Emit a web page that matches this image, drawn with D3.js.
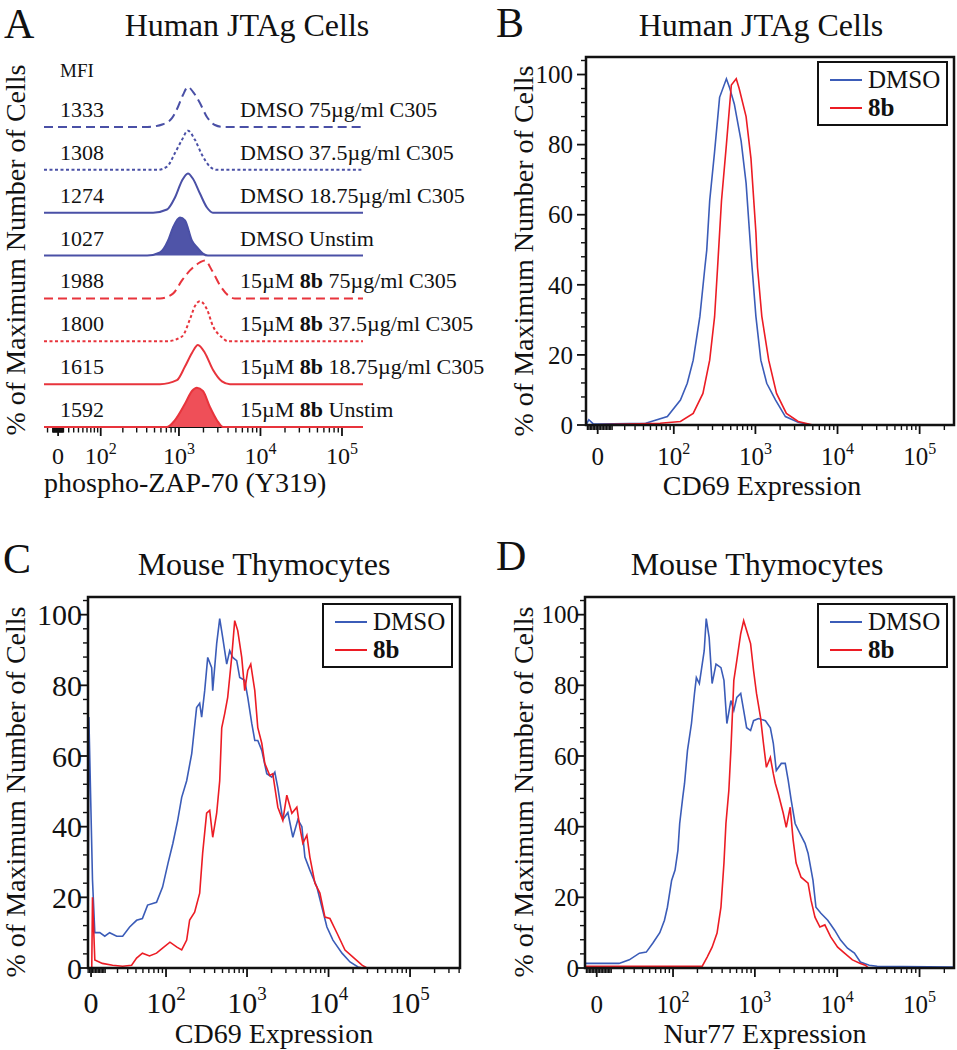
<!DOCTYPE html>
<html><head><meta charset="utf-8">
<script src="https://cdn.jsdelivr.net/npm/d3@7"></script>
<style>
body{margin:0;background:#fff}
svg{display:block}
text{font-family:"Liberation Serif","Times New Roman",serif;fill:#111;white-space:pre}
</style>
</head><body>
<svg id="c" width="957" height="1050"></svg>
<script>
// ---------------- DATA ----------------
// x tick labels (decades)
const xMajorValues = [0, 100, 1000, 10000, 100000];
const xTickBase = ["0", "10", "10", "10", "10"];
const xTickExp = ["", "2", "3", "4", "5"];
const yTickValues = [0, 20, 40, 60, 80, 100];

// Panel A: staggered histograms (x = fluorescence intensity, y = % of max)
const rowMFI = ["1333", "1308", "1274", "1027", "1988", "1800", "1615", "1592"];
const rowPrefix = ["DMSO", "DMSO", "DMSO", "DMSO", "15µM ", "15µM ", "15µM ", "15µM "];
const rowBold = ["", "", "", "", "8b", "8b", "8b", "8b"];
const rowSuffix = [" 75µg/ml C305", " 37.5µg/ml C305", " 18.75µg/ml C305", " Unstim",
                   " 75µg/ml C305", " 37.5µg/ml C305", " 18.75µg/ml C305", " Unstim"];
const rowStyle = ["dash", "dot", "solid", "fill", "dash", "dot", "solid", "fill"];
const rowGroup = ["DMSO", "DMSO", "DMSO", "DMSO", "8b", "8b", "8b", "8b"];

const rowDMSO75 = [[405,0],[637,7],[820,22],[972,50],[1120,80],[1289,100],[1486,88],[1810,60],[2206,25],[2766,5],[3467,0]];
const rowDMSO37 = [[537,0],[713,8],[893,42],[1089,75],[1289,98],[1572,75],[1915,38],[2401,8],[2926,0]];
const rowDMSO18 = [[480,0],[713,8],[893,38],[1089,80],[1289,98],[1486,85],[1810,48],[2206,13],[2613,0]];
const rowDMSOUn = [[405,0],[585,8],[733,37],[844,70],[1028,95],[1186,88],[1445,37],[1663,21],[1969,5],[2269,0]];
const row8b75 = [[585,0],[844,12],[1089,45],[1365,70],[1810,90],[2084,95],[2541,70],[3185,33],[3993,8],[4864,0]];
const row8b37 = [[713,0],[1089,12],[1365,55],[1572,88],[1810,100],[2206,80],[2613,38],[3371,10],[3993,0]];
const row8b18 = [[585,0],[945,10],[1186,44],[1445,78],[1710,98],[2084,78],[2613,36],[3371,7],[4226,0]];
const row8bUn = [[713,0],[893,17],[1186,58],[1445,90],[1663,98],[1969,90],[2401,50],[2926,17],[3467,0]];
const rowData = [rowDMSO75, rowDMSO37, rowDMSO18, rowDMSOUn, row8b75, row8b37, row8b18, row8bUn];

// Panel B: Human JTAg, CD69
const bDMSO = [[-8,0],[-6,1.5],[-3,0.3],[0,0.3],[43,0.5],[83,2.4],[121,7.1],[147,11.9],[174,18.5],[210,30.9],[242,45],[255,49.9],[277,64],[318,78],[366,93.5],[443,98.8],[482,96.4],[553,91.6],[670,81],[770,69],[883,49],[1014,31],[1164,18.5],[1374,11.9],[1761,7.1],[2318,2.4],[3319,0.8],[4750,0],[262144,0]];
const b8b = [[-8,0],[67,0.5],[121,1],[174,3.3],[229,9],[277,18.5],[318,30.9],[346,45],[386,64],[443,80],[509,97],[584,98.8],[634,96],[770,88],[883,76],[1014,55],[1060,45],[1197,31],[1452,18.5],[1808,9],[2383,3.3],[3319,1],[5020,0],[262144,0]];

// Panel C: Mouse thymocytes, CD69
const cDMSO = [[-2.1,0],[-1.5,71],[1,25],[2.6,10],[6.1,10],[9.7,9],[13.4,10],[19.3,9],[24.8,9],[32.2,11.6],[40.8,13.5],[49.2,14],[57.8,17.8],[75.7,18.6],[90.4,22.9],[106,29.7],[122,35.3],[140,41.8],[157,48.3],[181,53],[209,60.7],[240,73.7],[262,74.9],[277,71],[302,78.5],[329,87.9],[368,85],[379,78.5],[424,91.8],[462,98.9],[503,93.5],[563,86],[613,89.8],[667,87.9],[747,87],[813,82.2],[937,81.4],[1021,76.6],[1143,69.2],[1245,64.4],[1355,64.4],[1517,61.6],[1747,55],[2014,54],[2193,55.4],[2388,51],[2748,42],[3170,44],[3648,37],[4207,42],[4710,40],[5129,31.4],[5902,27.7],[7194,22.9],[8299,17.2],[9550,11.6],[11320,7.9],[14620,4.2],[18330,1.7],[23010,0.3],[26000,0],[410000,0]];
const c8b = [[-2.1,0],[0.5,0],[1,20],[2.6,2.3],[7.9,1.3],[15.8,0.8],[24.8,0.5],[34.5,0.8],[40.8,2.8],[49.2,4.2],[61.3,3.4],[75.7,4.2],[90.4,5.6],[112,7.3],[137,5.9],[157,5.1],[181,7.9],[197,13.6],[227,15.8],[262,21.2],[285,32.5],[319,43.8],[348,44.6],[379,37],[424,43.8],[462,53],[489,68],[532,72],[579,76.6],[648,87.9],[706,98.3],[769,95.5],[861,87.9],[937,78.5],[1021,84.2],[1111,86],[1245,78.5],[1355,68],[1517,63.6],[1651,57.9],[1901,54.5],[2070,55],[2388,45.5],[2748,41.8],[3076,48.9],[3548,43.8],[4083,45.5],[4446,39.8],[4842,35.3],[5420,37.6],[5902,31.4],[6808,24],[7834,21.2],[9036,14.4],[10400,14],[12680,9.9],[15920,5.1],[19950,3.1],[25760,0.8],[29650,0],[410000,0]];

// Panel D: Mouse thymocytes, Nur77
const dDMSO = [[-8,1.3],[6,1.3],[16,1.3],[25,2.3],[36,4.2],[45,4.5],[55,7],[68,10],[78,13.5],[85,17.2],[96,24.8],[106,27.7],[115,33.3],[121,40.9],[132,48.3],[139,52.3],[151,61.6],[169,69.2],[184,77.7],[194,82.2],[211,80.5],[223,84.2],[242,89.8],[256,98.9],[278,93.5],[302,80.5],[337,86],[387,85],[421,81.4],[457,69.2],[511,75.7],[555,72.9],[603,76.6],[673,77.7],[731,72.9],[794,68],[887,67.2],[964,70],[1107,70.6],[1343,70],[1542,68],[1675,63.6],[1820,55.9],[2094,57.9],[2338,57.9],[2541,53.1],[2761,47.5],[3083,40.9],[3540,38],[4064,35.3],[4426,32.5],[5082,24.8],[5521,17.2],[6339,15.5],[7674,13.5],[9311,10.7],[10990,7.9],[13340,5.6],[16180,4.2],[19100,1.7],[24490,0.8],[30550,0.5],[262144,0.3]];
const d8b = [[-8,0.5],[229,0.5],[263,3.1],[302,5.9],[347,9.9],[387,17.2],[421,29.7],[445,40.9],[483,50.3],[511,61.6],[555,81.4],[603,87],[673,94.6],[731,98.3],[794,95.5],[887,91.8],[964,84.2],[1047,77.7],[1170,71],[1271,63.6],[1380,56.8],[1542,59.6],[1675,55],[1770,52.3],[1923,49.4],[2213,43.8],[2404,39.8],[2685,45.5],[2917,36.2],[3170,29.7],[3639,25.7],[4426,24],[4809,19.2],[5370,14.4],[6166,11.6],[7079,12.2],[8337,8.8],[10120,5.9],[12270,4.2],[15310,2.3],[19100,1.3],[21930,0.8],[24000,0],[262144,0]];

const legendNames = ["DMSO", "8b"];

// ---------------- DRAWING ----------------
const svg = d3.select("#c");
svg.append("rect").attr("width", 957).attr("height", 1050).attr("fill", "#fff");
const INK = "#111";
const BLUE = "#3b5cb8", RED = "#ec1c24";
const BLUE_A = "#4a50a6", RED_A = "#e8343c";
const BLUE_FILL = "#4f54a8", RED_FILL = "#ef4f58";

function tf(c) { return v => Math.asinh(v / (2 * c)) / Math.LN10 + Math.log10(c); }
function makeX(c, xMin, xMax, r0, r1) {
  const t = tf(c);
  const lin = d3.scaleLinear().domain([t(xMin), t(xMax)]).range([r0, r1]);
  const f = v => lin(t(v));
  f.min = xMin; f.max = xMax; f.r0 = r0; f.r1 = r1;
  return f;
}

function drawXTicks(g, x, y0, majLen, minLen, labY, fs, supFs, supDy) {
  const minors = [];
  for (let n = 0; n <= 5; n++) for (let k = 1; k <= 9; k++) {
    const v = k * Math.pow(10, n);
    if (k === 1 && n >= 2) continue;
    [v, -v].forEach(vv => { if (vv > x.min && vv < x.max) minors.push(vv); });
  }
  g.selectAll(null).data(minors).enter().append("line")
    .attr("x1", d => x(d)).attr("x2", d => x(d)).attr("y1", y0).attr("y2", y0 + minLen)
    .attr("stroke", INK).attr("stroke-width", 1.4);
  const majors = xMajorValues.map((v, i) => ({ v, i })).filter(d => d.v >= x.min && d.v <= x.max);
  g.selectAll(null).data(majors).enter().append("line")
    .attr("x1", d => x(d.v)).attr("x2", d => x(d.v)).attr("y1", y0).attr("y2", y0 + majLen)
    .attr("stroke", INK).attr("stroke-width", 1.8);
  const lab = g.selectAll(null).data(majors).enter().append("text")
    .attr("x", d => x(d.v)).attr("y", labY).attr("text-anchor", "middle")
    .attr("font-size", fs);
  lab.append("tspan").text(d => xTickBase[d.i]);
  lab.filter(d => xTickExp[d.i] !== "").append("tspan")
    .attr("font-size", supFs).attr("dy", -supDy).text(d => xTickExp[d.i]);
}

function drawYAxisLabel(x, y) {
  svg.append("text").attr("transform", `translate(${x},${y}) rotate(-90)`)
    .attr("text-anchor", "middle").attr("font-size", 28)
    .text("% of Maximum Number of Cells");
}

function letter(t, x, y) {
  svg.append("text").attr("x", x).attr("y", y).attr("font-size", 42).text(t);
}
function title(t, x, y) {
  svg.append("text").attr("x", x).attr("y", y).attr("text-anchor", "middle").attr("font-size", 32).text(t);
}

// ---------- Panel A ----------
(function () {
  const x = makeX(33, -27, 181000, 44, 363);
  const base = d3.scalePoint().domain(d3.range(8)).range([127, 427]);
  const h = d3.scaleLinear().domain([0, 100]).range([0, -40]);
  const g = svg.append("g");
  letter("A", 4, 38);
  title("Human JTAg Cells", 247, 36);
  drawYAxisLabel(25, 250);
  // axis
  g.append("line").attr("x1", 44).attr("x2", 363).attr("y1", 427).attr("y2", 427)
    .attr("stroke", INK).attr("stroke-width", 2);
  drawXTicks(g, x, 428, 8, 4.5, 464, 24, 16, 10);
  g.append("text").attr("x", 44).attr("y", 492).attr("font-size", 28).text("phospho-ZAP-70 (Y319)");
  g.append("text").attr("x", 60).attr("y", 77).attr("font-size", 19).text("MFI");

  rowData.forEach((rd, i) => {
    const pts = [[x.min, 0]].concat(rd, [[x.max, 0]]);
    const b = base(i);
    const isD = rowGroup[i] === "DMSO";
    const col = isD ? BLUE_A : RED_A;
    if (rowStyle[i] === "fill") {
      const area = d3.area().x(d => x(d[0])).y0(b).y1(d => b + h(d[1])).curve(d3.curveMonotoneX);
      g.append("path").attr("d", area(pts)).attr("fill", isD ? BLUE_FILL : RED_FILL);
    }
    const line = d3.line().x(d => x(d[0])).y(d => b + h(d[1])).curve(d3.curveMonotoneX);
    const p = g.append("path").attr("d", line(pts)).attr("fill", "none")
      .attr("stroke", col).attr("stroke-width", 2);
    if (rowStyle[i] === "dash") p.attr("stroke-dasharray", "9,5");
    if (rowStyle[i] === "dot") p.attr("stroke-dasharray", "3,2.5");
    g.append("text").attr("x", 60).attr("y", b - 10).attr("font-size", 22).text(rowMFI[i]);
    const t = g.append("text").attr("x", 240).attr("y", b - 10).attr("font-size", 22);
    t.append("tspan").text(rowPrefix[i]);
    if (rowBold[i]) t.append("tspan").attr("font-weight", "bold").text(rowBold[i]);
    t.append("tspan").text(rowSuffix[i]);
  });
})();

// ---------- Framed histogram panels ----------
function framed(opt) {
  const { x, top, bottom, left, right, dmso, eight, id } = opt;
  const y = d3.scaleLinear().domain([0, 105]).range([bottom, top]);
  const g = svg.append("g");
  g.append("clipPath").attr("id", id).append("rect")
    .attr("x", left).attr("y", top).attr("width", right - left).attr("height", bottom - top);
  // y ticks
  const minorsY = d3.range(0, 105, 4).filter(v => v % 20 !== 0);
  g.selectAll(null).data(minorsY).enter().append("line")
    .attr("x1", left - 5).attr("x2", left).attr("y1", d => y(d)).attr("y2", d => y(d))
    .attr("stroke", INK).attr("stroke-width", 1.4);
  g.selectAll(null).data(yTickValues).enter().append("line")
    .attr("x1", left - 9).attr("x2", left).attr("y1", d => y(d)).attr("y2", d => y(d))
    .attr("stroke", INK).attr("stroke-width", 1.8);
  g.selectAll(null).data(yTickValues).enter().append("text")
    .attr("x", opt.yLabX).attr("y", d => y(d)).attr("dy", "0.35em")
    .attr("text-anchor", "end").attr("font-size", opt.tickFs).text(d => d);
  drawXTicks(g, x, bottom, 9, 5, opt.xLabY, opt.tickFs, opt.supFs, opt.supDy);
  // curves
  const line = d3.line().x(d => x(d[0])).y(d => y(d[1]));
  const cg = g.append("g").attr("clip-path", `url(#${id})`);
  cg.append("path").attr("d", line(dmso)).attr("fill", "none").attr("stroke", BLUE).attr("stroke-width", 1.6);
  cg.append("path").attr("d", line(eight)).attr("fill", "none").attr("stroke", RED).attr("stroke-width", 1.6);
  // frame
  g.append("rect").attr("x", left).attr("y", top).attr("width", right - left).attr("height", bottom - top)
    .attr("fill", "none").attr("stroke", INK).attr("stroke-width", 2.5);
  // legend
  const L = opt.legend;
  g.append("rect").attr("x", L.x).attr("y", L.y).attr("width", 129).attr("height", 63)
    .attr("fill", "#fff").attr("stroke", INK).attr("stroke-width", 2);
  [BLUE, RED].forEach((c, i) => {
    const ly = L.y + 18 + i * 28;
    g.append("line").attr("x1", L.x + 12).attr("x2", L.x + 44).attr("y1", ly).attr("y2", ly)
      .attr("stroke", c).attr("stroke-width", 2);
    g.append("text").attr("x", L.x + 50).attr("y", ly + 8).attr("font-size", 25)
      .attr("font-weight", i === 1 ? "bold" : "normal").text(legendNames[i]);
  });
  // axis title
  g.append("text").attr("x", opt.xTitleX).attr("y", opt.xTitleY).attr("text-anchor", "middle")
    .attr("font-size", 28).text(opt.xTitle);
}

// Panel B
letter("B", 496, 37);
title("Human JTAg Cells", 761, 36);
drawYAxisLabel(533, 251);
framed({
  id: "clipB", x: makeX(12, -8, 262144, 586, 954), top: 57, bottom: 425, left: 586, right: 954,
  dmso: bDMSO, eight: b8b, yLabX: 573, tickFs: 25, supFs: 16, supDy: 11, xLabY: 465,
  legend: { x: 818, y: 62 }, xTitle: "CD69 Expression", xTitleX: 762, xTitleY: 495
});

// Panel C
letter("C", 3, 573);
title("Mouse Thymocytes", 264, 575);
drawYAxisLabel(25, 792);
framed({
  id: "clipC", x: makeX(12.2, -2.1, 410000, 88, 460), top: 597, bottom: 968, left: 88, right: 460,
  dmso: cDMSO, eight: c8b, yLabX: 82, tickFs: 30, supFs: 19, supDy: 13, xLabY: 1013,
  legend: { x: 323, y: 604 }, xTitle: "CD69 Expression", xTitleX: 274, xTitleY: 1043
});

// Panel D
letter("D", 496, 570);
title("Mouse Thymocytes", 757, 575);
drawYAxisLabel(533, 792);
framed({
  id: "clipD", x: makeX(12, -8, 262144, 585, 954), top: 597, bottom: 968, left: 585, right: 954,
  dmso: dDMSO, eight: d8b, yLabX: 579, tickFs: 25, supFs: 16, supDy: 11, xLabY: 1013,
  legend: { x: 818, y: 604 }, xTitle: "Nur77 Expression", xTitleX: 765, xTitleY: 1043
});
</script>
</body></html>
